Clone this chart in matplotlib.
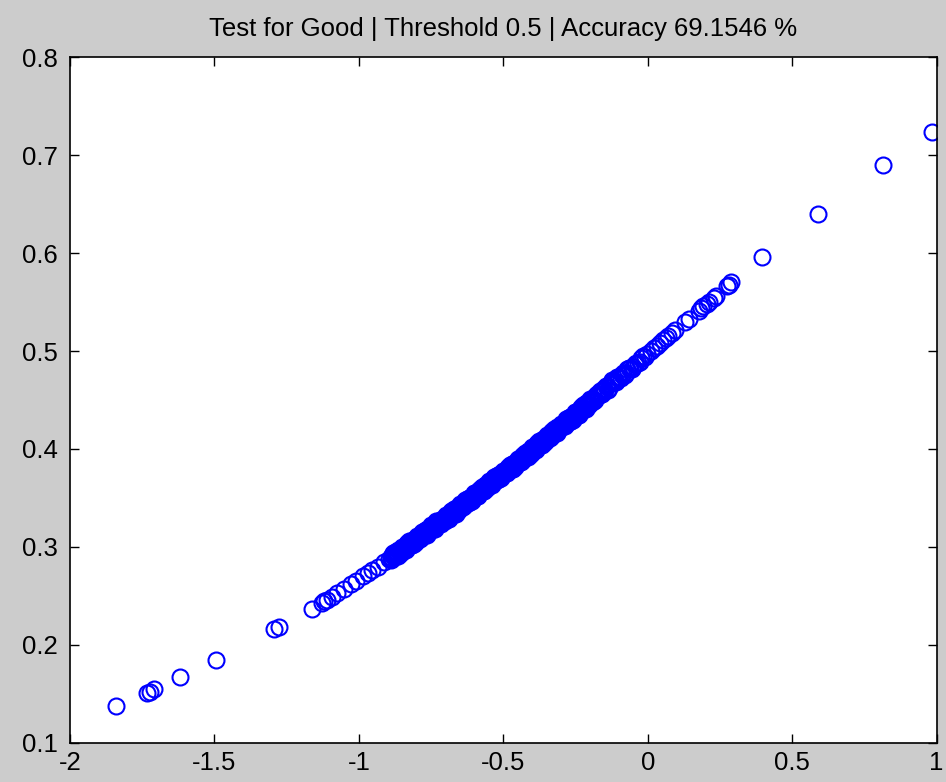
import numpy as np
import matplotlib
matplotlib.use("Agg")
from matplotlib import pyplot as plt

# scores on the test set (x) vs predicted probability (y)
x_low = [-1.840, -1.732, -1.722, -1.708, -1.618, -1.494, -1.294, -1.275, -1.120]
y_low = [0.138, 0.151, 0.152, 0.155, 0.167, 0.185, 0.216, 0.218, 0.245]

x_tail = [-1.161, -1.126, -1.109, -1.092, -1.074, -1.051, -1.028, -1.010, -0.987,
          -0.970, -0.953, -0.935, -0.912, -0.895]
y_tail = [0.237, 0.243, 0.246, 0.249, 0.253, 0.257, 0.262, 0.265, 0.270,
          0.273, 0.276, 0.280, 0.285, 0.288]

x_band = [
    -0.890, -0.886, -0.882, -0.877, -0.873, -0.869, -0.865, -0.861, -0.857, -0.852, -0.848, -0.844,
    -0.840, -0.836, -0.832, -0.827, -0.823, -0.819, -0.815, -0.811, -0.807, -0.802, -0.798, -0.794,
    -0.790, -0.786, -0.782, -0.777, -0.773, -0.769, -0.765, -0.761, -0.757, -0.752, -0.748, -0.744,
    -0.740, -0.736, -0.732, -0.727, -0.723, -0.719, -0.715, -0.711, -0.707, -0.702, -0.698, -0.694,
    -0.690, -0.686, -0.682, -0.677, -0.673, -0.669, -0.665, -0.661, -0.657, -0.652, -0.648, -0.644,
    -0.640, -0.636, -0.632, -0.627, -0.623, -0.619, -0.615, -0.611, -0.607, -0.602, -0.598, -0.594,
    -0.590, -0.586, -0.582, -0.577, -0.573, -0.569, -0.565, -0.561, -0.557, -0.552, -0.548, -0.544,
    -0.540, -0.536, -0.532, -0.527, -0.523, -0.519, -0.515, -0.511, -0.507, -0.502, -0.498, -0.494,
    -0.490, -0.486, -0.482, -0.477, -0.473, -0.469, -0.465, -0.461, -0.457, -0.452, -0.448, -0.444,
    -0.440, -0.436, -0.432, -0.427, -0.423, -0.419, -0.415, -0.411, -0.407, -0.402, -0.398, -0.394,
    -0.390, -0.386, -0.382, -0.377, -0.373, -0.369, -0.365, -0.361, -0.357, -0.352, -0.348, -0.344,
    -0.340, -0.336, -0.332, -0.327, -0.323, -0.319, -0.315, -0.311, -0.307, -0.302, -0.298, -0.294,
    -0.290, -0.286, -0.282, -0.277, -0.273, -0.269, -0.265, -0.261, -0.257, -0.252, -0.248, -0.244,
    -0.240, -0.236, -0.232, -0.227, -0.223, -0.219, -0.215, -0.211, -0.207, -0.202, -0.198, -0.194,
    -0.190, -0.183, -0.176, -0.169, -0.162, -0.155, -0.148,
    -0.140, -0.133, -0.126, -0.119, -0.112, -0.105, -0.098,
    -0.090, -0.080, -0.070, -0.060, -0.050,
    -0.040, -0.028, -0.016, -0.004,
]
y_band = [
    0.290, 0.288, 0.294, 0.292, 0.292, 0.295, 0.291, 0.296, 0.296, 0.295, 0.300, 0.298,
    0.300, 0.298, 0.304, 0.302, 0.302, 0.306, 0.302, 0.307, 0.306, 0.305, 0.310, 0.308,
    0.311, 0.309, 0.315, 0.313, 0.313, 0.317, 0.312, 0.317, 0.317, 0.316, 0.321, 0.319,
    0.322, 0.320, 0.326, 0.324, 0.324, 0.327, 0.323, 0.328, 0.328, 0.327, 0.332, 0.330,
    0.333, 0.331, 0.337, 0.335, 0.335, 0.339, 0.334, 0.339, 0.339, 0.338, 0.343, 0.341,
    0.344, 0.342, 0.348, 0.346, 0.346, 0.350, 0.346, 0.351, 0.351, 0.350, 0.355, 0.352,
    0.355, 0.353, 0.359, 0.357, 0.357, 0.361, 0.357, 0.362, 0.362, 0.361, 0.366, 0.364,
    0.367, 0.365, 0.371, 0.369, 0.369, 0.373, 0.369, 0.374, 0.374, 0.373, 0.378, 0.376,
    0.379, 0.377, 0.382, 0.381, 0.380, 0.385, 0.380, 0.385, 0.385, 0.385, 0.390, 0.387,
    0.390, 0.388, 0.394, 0.393, 0.392, 0.396, 0.392, 0.397, 0.397, 0.396, 0.402, 0.399,
    0.402, 0.400, 0.406, 0.404, 0.404, 0.408, 0.404, 0.409, 0.409, 0.408, 0.413, 0.411,
    0.414, 0.412, 0.418, 0.417, 0.416, 0.420, 0.416, 0.421, 0.421, 0.421, 0.426, 0.424,
    0.427, 0.425, 0.431, 0.429, 0.429, 0.433, 0.429, 0.434, 0.434, 0.433, 0.438, 0.436,
    0.439, 0.437, 0.443, 0.441, 0.441, 0.445, 0.441, 0.446, 0.446, 0.445, 0.450, 0.448,
    0.451, 0.450, 0.456, 0.455, 0.456, 0.461, 0.460,
    0.464, 0.462, 0.468, 0.468, 0.469, 0.473, 0.472,
    0.476, 0.476, 0.482, 0.483, 0.484,
    0.488, 0.489, 0.495, 0.497,
]

# second run of points through the dense part of the band
x_band2 = [
    -0.888, -0.884, -0.880, -0.875, -0.871, -0.867, -0.863, -0.859, -0.855, -0.850, -0.846, -0.842,
    -0.838, -0.834, -0.830, -0.825, -0.821, -0.817, -0.813, -0.809, -0.805, -0.800, -0.796, -0.792,
    -0.788, -0.784, -0.780, -0.775, -0.771, -0.767, -0.763, -0.759, -0.755, -0.750, -0.746, -0.742,
    -0.738, -0.734, -0.730, -0.725, -0.721, -0.717, -0.713, -0.709, -0.705, -0.700, -0.696, -0.692,
    -0.688, -0.684, -0.680, -0.675, -0.671, -0.667, -0.663, -0.659, -0.655, -0.650, -0.646, -0.642,
    -0.638, -0.634, -0.630, -0.625, -0.621, -0.617, -0.613, -0.609, -0.605, -0.600, -0.596, -0.592,
    -0.588, -0.584, -0.580, -0.575, -0.571, -0.567, -0.563, -0.559, -0.555, -0.550, -0.546, -0.542,
    -0.538, -0.534, -0.530, -0.525, -0.521, -0.517, -0.513, -0.509, -0.505, -0.500, -0.496, -0.492,
    -0.488, -0.484, -0.480, -0.475, -0.471, -0.467, -0.463, -0.459, -0.455, -0.450, -0.446, -0.442,
    -0.438, -0.434, -0.430, -0.425, -0.421, -0.417, -0.413, -0.409, -0.405, -0.400, -0.396, -0.392,
    -0.388, -0.384, -0.380, -0.375, -0.371, -0.367, -0.363, -0.359, -0.355, -0.350, -0.346, -0.342,
    -0.338, -0.334, -0.330, -0.325, -0.321, -0.317, -0.313, -0.309, -0.305, -0.300, -0.296, -0.292,
    -0.288, -0.284, -0.280, -0.275, -0.271, -0.267, -0.263, -0.259, -0.255, -0.250, -0.246, -0.242,
    -0.238, -0.234, -0.230, -0.225, -0.221, -0.217, -0.213, -0.209, -0.205, -0.200, -0.196, -0.192,
    -0.186, -0.179, -0.172, -0.165, -0.158, -0.151, -0.144, -0.137, -0.130, -0.123, -0.116,
    -0.109, -0.102, -0.094, -0.085, -0.075, -0.065, -0.055, -0.045, -0.034, -0.022, -0.010,
]
y_band2 = [
    0.287, 0.292, 0.290, 0.295, 0.291, 0.294, 0.297, 0.293, 0.297, 0.300, 0.297, 0.297,
    0.297, 0.303, 0.301, 0.306, 0.302, 0.304, 0.307, 0.303, 0.308, 0.311, 0.308, 0.308,
    0.308, 0.313, 0.311, 0.316, 0.312, 0.315, 0.318, 0.314, 0.319, 0.322, 0.319, 0.318,
    0.318, 0.324, 0.322, 0.327, 0.323, 0.326, 0.329, 0.325, 0.330, 0.333, 0.330, 0.329,
    0.329, 0.335, 0.333, 0.338, 0.334, 0.337, 0.340, 0.336, 0.341, 0.344, 0.341, 0.341,
    0.341, 0.346, 0.344, 0.349, 0.345, 0.348, 0.351, 0.347, 0.352, 0.355, 0.352, 0.352,
    0.352, 0.358, 0.356, 0.361, 0.357, 0.360, 0.363, 0.359, 0.364, 0.367, 0.364, 0.364,
    0.363, 0.369, 0.367, 0.372, 0.368, 0.371, 0.374, 0.370, 0.375, 0.378, 0.375, 0.375,
    0.375, 0.381, 0.379, 0.384, 0.380, 0.383, 0.386, 0.382, 0.387, 0.390, 0.387, 0.387,
    0.387, 0.393, 0.391, 0.396, 0.392, 0.395, 0.398, 0.394, 0.399, 0.402, 0.399, 0.399,
    0.399, 0.405, 0.403, 0.408, 0.404, 0.407, 0.410, 0.406, 0.411, 0.414, 0.411, 0.411,
    0.411, 0.417, 0.415, 0.420, 0.416, 0.419, 0.422, 0.418, 0.423, 0.426, 0.423, 0.423,
    0.423, 0.429, 0.427, 0.432, 0.428, 0.431, 0.434, 0.430, 0.435, 0.438, 0.435, 0.435,
    0.435, 0.441, 0.439, 0.445, 0.441, 0.444, 0.447, 0.443, 0.448, 0.451, 0.448, 0.448,
    0.449, 0.455, 0.454, 0.459, 0.456, 0.460, 0.464, 0.460, 0.466, 0.470, 0.468,
    0.468, 0.473, 0.472, 0.478, 0.478, 0.483, 0.482, 0.487, 0.488, 0.493, 0.494,
]

x_mid = [0.010, 0.022, 0.031, 0.042, 0.054, 0.063, 0.071, 0.083, 0.094, 0.130, 0.143,
         0.176, 0.186, 0.193, 0.204, 0.211, 0.228, 0.236, 0.274, 0.280, 0.290]
y_mid = [0.500, 0.503, 0.505, 0.508, 0.511, 0.513, 0.515, 0.518, 0.521, 0.530, 0.533,
         0.541, 0.544, 0.546, 0.548, 0.550, 0.554, 0.556, 0.566, 0.567, 0.570]

x_high = [0.397, 0.591, 0.815, 0.986]
y_high = [0.596, 0.640, 0.690, 0.724]

x = np.concatenate([x_low, x_tail, x_band, x_band2, x_mid, x_high])
y = np.concatenate([y_low, y_tail, y_band, y_band2, y_mid, y_high])

threshold = 0.5
accuracy = 69.1546

plt.rcParams['font.family'] = ['Liberation Sans', 'DejaVu Sans']

fig = plt.figure(figsize=(9.46, 7.82), dpi=100, facecolor='#cccccc')
ax = fig.add_axes([0.074, 0.050, 0.916, 0.877])
ax.plot(x, y, linestyle='none', marker='o', markersize=11.5,
        markerfacecolor='none', markeredgecolor='#0000ff', markeredgewidth=1.5)

ax.set_xlim(-2, 1)
ax.set_ylim(0.1, 0.8)
ax.set_xticks([-2, -1.5, -1, -0.5, 0, 0.5, 1])
ax.set_xticklabels(['-2', '-1.5', '-1', '-0.5', '0', '0.5', '1'])
ax.set_yticks([0.1, 0.2, 0.3, 0.4, 0.5, 0.6, 0.7, 0.8])
ax.set_yticklabels(['0.1', '0.2', '0.3', '0.4', '0.5', '0.6', '0.7', '0.8'])
ax.tick_params(direction='in', length=6.5, width=1, top=True, right=True,
               labelsize=18.5, colors='black')
ax.tick_params(axis='y', pad=9)
ax.tick_params(axis='x', pad=6)
for s in ax.spines.values():
    s.set_linewidth(1.2)
    s.set_color('black')

ax.set_title('Test for Good | Threshold %g | Accuracy %g %%' % (threshold, accuracy),
             fontsize=18.5, pad=15)

fig.savefig('out.png', dpi=100, facecolor=fig.get_facecolor())
